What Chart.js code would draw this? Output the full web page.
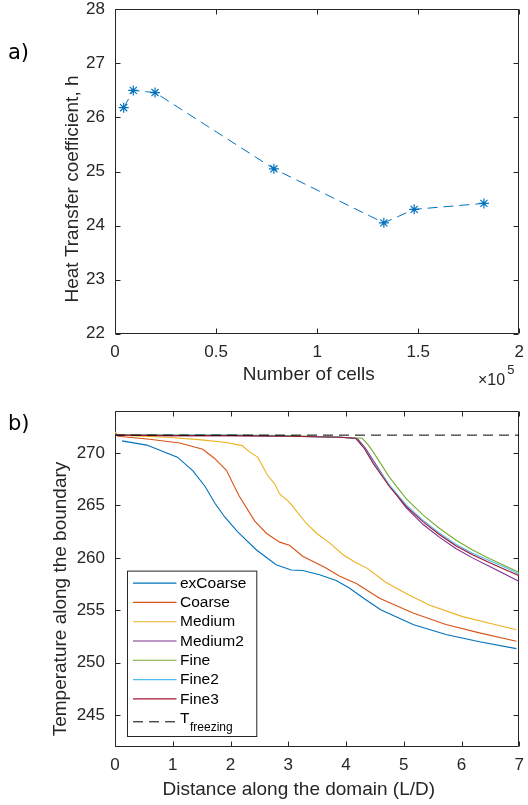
<!DOCTYPE html>
<html><head><meta charset="utf-8">
<script src="https://cdn.jsdelivr.net/npm/chart.js@4.4.1/dist/chart.umd.min.js"></script>
<style>
html,body{margin:0;padding:0;background:#fff;}
#wrap{position:relative;width:528px;height:805px;overflow:hidden;}
canvas{position:absolute;left:0;}
#c1{top:0;}
#c2{top:390px;}
</style></head><body>
<div id="wrap">
<canvas id="c1" width="528" height="400"></canvas>
<canvas id="c2" width="528" height="415"></canvas>
</div>
<script>
// ---------- Panel a) data ----------
const cellCounts   = [4300, 9050, 19800, 78600, 133000, 148000, 182500];
const heatTransfer = [26.18, 26.5, 26.46, 25.05, 24.05, 24.3, 24.41];
const aXTicks      = [0, 50000, 100000, 150000, 200000];
const aXTickLabels = ['0', '0.5', '1', '1.5', '2'];
const aYTicks      = [22, 23, 24, 25, 26, 27, 28];

// ---------- Panel b) data ----------
const seriesNames = ['exCoarse', 'Coarse', 'Medium', 'Medium2', 'Fine', 'Fine2', 'Fine3'];
const exCoarseX = [0.12, 0.55, 1.08, 1.35, 1.56, 1.73, 1.9, 2.12, 2.45, 2.79, 3.05, 3.25, 3.54, 3.83, 4.05, 4.33, 4.6, 5.16, 5.73, 6.31, 6.95];
const exCoarseY = [271.15, 270.75, 269.6, 268.3, 266.8, 265.2, 263.9, 262.5, 260.75, 259.35, 258.85, 258.8, 258.4, 257.85, 257.15, 256.05, 255.05, 253.65, 252.7, 252.0, 251.35];
const coarseX = [0, 0.05, 0.6, 1.12, 1.52, 1.72, 1.93, 2.05, 2.15, 2.42, 2.62, 2.85, 3.02, 3.25, 3.63, 3.89, 4.18, 4.58, 5.16, 5.73, 6.31, 6.95];
const coarseY = [272.0, 271.6, 271.3, 270.95, 270.35, 269.5, 268.35, 267.0, 265.9, 263.5, 262.35, 261.5, 261.2, 260.15, 259.1, 258.25, 257.55, 256.15, 254.75, 253.65, 252.85, 252.05];
const mediumX = [0, 0.05, 0.9, 1.5, 1.93, 2.2, 2.33, 2.47, 2.57, 2.64, 2.77, 2.85, 2.98, 3.05, 3.31, 3.5, 3.72, 3.95, 4.15, 4.37, 4.68, 5.04, 5.44, 6.02, 6.54, 6.95];
const mediumY = [272.0, 271.7, 271.5, 271.25, 271.0, 270.7, 270.1, 269.6, 268.6, 267.9, 267.0, 266.1, 265.5, 265.1, 263.3, 262.3, 261.4, 260.3, 259.6, 259.0, 257.7, 256.6, 255.5, 254.4, 253.7, 253.15];
const medium2X = [0, 1, 2, 3, 3.9, 4.2, 4.33, 4.47, 4.75, 5.04, 5.33, 5.62, 5.9, 6.19, 6.48, 6.77, 7.0];
const medium2Y = [271.7, 271.65, 271.65, 271.6, 271.5, 271.35, 270.5, 269.3, 266.9, 264.8, 263.2, 261.95, 260.9, 260.0, 259.2, 258.4, 257.75];
const fineX = [0, 1, 2, 3, 3.9, 4.28, 4.38, 4.47, 4.75, 5.04, 5.33, 5.62, 5.9, 6.19, 6.48, 6.77, 7.0];
const fineY = [271.7, 271.7, 271.7, 271.65, 271.5, 271.4, 270.8, 270.1, 267.7, 265.65, 264.1, 262.8, 261.7, 260.75, 259.95, 259.2, 258.6];
const fine2X = [0, 1, 2, 3, 3.9, 4.17, 4.32, 4.47, 4.75, 5.04, 5.33, 5.62, 5.9, 6.19, 6.48, 6.77, 7.0];
const fine2Y = [271.7, 271.7, 271.7, 271.6, 271.5, 271.4, 270.45, 269.1, 266.95, 265.05, 263.6, 262.35, 261.3, 260.45, 259.75, 259.05, 258.45];
const fine3X = [0, 1, 2, 3, 3.9, 4.17, 4.32, 4.47, 4.75, 5.04, 5.33, 5.62, 5.9, 6.19, 6.48, 6.77, 7.0];
const fine3Y = [271.7, 271.65, 271.65, 271.6, 271.5, 271.4, 270.4, 269.0, 266.8, 264.9, 263.45, 262.2, 261.15, 260.3, 259.55, 258.85, 258.3];
const tFreezing = 271.7;
const freezingRange = [0, 7];
const bXTicks = [0, 1, 2, 3, 4, 5, 6, 7];
const bYTicks = [245, 250, 255, 260, 265, 270];

// ---------- styles ----------
const FONT = "'Liberation Sans', Arial, Helvetica, sans-serif";
const AXIS = '#262626';
const seriesColors = ['#0072BD', '#D95319', '#EDB120', '#7E2F8E', '#77AC30', '#4DBEEE', '#A2142F'];
const DASH = [10, 6];

const seriesXs = [exCoarseX, coarseX, mediumX, medium2X, fineX, fine2X, fine3X];
const seriesYs = [exCoarseY, coarseY, mediumY, medium2Y, fineY, fine2Y, fine3Y];

// frame, inward ticks, titles, panel labels
const matlabPlugin = {
  id: 'matlab',
  beforeDatasetsDraw(chart, args, o) {
    const {ctx, chartArea: a, scales: {x, y}} = chart;
    ctx.save();
    ctx.strokeStyle = AXIS; ctx.lineWidth = 1;
    const L = 5;
    const l = Math.round(a.left) + 0.5, r = Math.round(a.right) - 0.5;
    const t = Math.round(a.top) + 0.5, b = Math.round(a.bottom) - 0.5;
    ctx.beginPath();
    ctx.moveTo(l, t); ctx.lineTo(r, t); ctx.lineTo(r, b); ctx.lineTo(l, b); ctx.closePath();
    x.ticks.forEach(tk => {
      const px = Math.round(x.getPixelForValue(tk.value)) + 0.5;
      ctx.moveTo(px, b); ctx.lineTo(px, b - L);
      ctx.moveTo(px, t); ctx.lineTo(px, t + L);
    });
    y.ticks.forEach(tk => {
      const py = Math.round(y.getPixelForValue(tk.value)) + 0.5;
      ctx.moveTo(l, py); ctx.lineTo(l + L, py);
      ctx.moveTo(r, py); ctx.lineTo(r - L, py);
    });
    ctx.stroke();
    ctx.restore();
  },
  afterDraw(chart, args, o) {
    const {ctx} = chart;
    ctx.save();
    ctx.fillStyle = AXIS;
    ctx.font = `19px ${FONT}`;
    ctx.textBaseline = 'alphabetic';
    ctx.textAlign = 'center';
    ctx.fillText(o.xTitle, o.xTitlePos[0], o.xTitlePos[1]);
    ctx.save();
    ctx.translate(o.yTitlePos[0], o.yTitlePos[1]);
    ctx.rotate(-Math.PI / 2);
    ctx.fillText(o.yTitle, 0, 0);
    ctx.restore();
    ctx.fillStyle = '#000';
    ctx.textAlign = 'left';
    ctx.font = `21px 'DejaVu Sans', sans-serif`;
    ctx.fillText(o.panel, o.panelPos[0], o.panelPos[1]);
    if (o.exponent) {
      ctx.fillStyle = AXIS;
      ctx.font = `16px ${FONT}`;
      ctx.fillText('\u00d710', o.exponentPos[0], o.exponentPos[1]);
      const w = ctx.measureText('\u00d710').width;
      ctx.font = `13px ${FONT}`;
      ctx.fillText(o.exponent, o.exponentPos[0] + w + 2, o.exponentPos[1] - 11);
    }
    ctx.restore();
  }
};

const boxLegend = {
  id: 'boxLegend',
  afterDatasetsDraw(chart, args, o) {
    if (!o.show) return;
    const {ctx, chartArea: a} = chart;
    const left = Math.round(a.left + o.offsetX) + 0.5;
    const bottom = Math.round(a.bottom - o.offsetY) + 0.5;
    const top = bottom - o.height;
    ctx.save();
    ctx.fillStyle = '#fff';
    ctx.fillRect(left, top, o.width, o.height);
    ctx.strokeStyle = AXIS; ctx.lineWidth = 1;
    ctx.strokeRect(left, top, o.width, o.height);
    chart.data.datasets.forEach((ds, i) => {
      const sub = ds.subLabel;
      const yy = top + o.firstRow + i * o.rowGap + (sub ? o.subExtra : 0);
      ctx.strokeStyle = ds.borderColor;
      ctx.lineWidth = ds.borderWidth;
      ctx.setLineDash(ds.borderDash || []);
      ctx.beginPath(); ctx.moveTo(left + 5.5, yy); ctx.lineTo(left + 49, yy); ctx.stroke();
      ctx.setLineDash([]);
      ctx.fillStyle = '#000';
      ctx.textAlign = 'left';
      ctx.textBaseline = 'middle';
      ctx.font = `15.5px ${FONT}`;
      if (sub) {
        ctx.fillText(ds.label, left + 52.5, yy - 3.5);
        const w = ctx.measureText(ds.label).width;
        ctx.font = `12px ${FONT}`;
        ctx.textBaseline = 'alphabetic';
        ctx.fillText(sub, left + 52.5 + w + 0.5, yy + 9.5);
      } else {
        ctx.fillText(ds.label, left + 52.5, yy + 0.5);
      }
    });
    ctx.restore();
  }
};

function scaleX(min, max, ticks, labels, height) {
  return {
    type: 'linear', min, max,
    afterBuildTicks: s => { s.ticks = ticks.map(v => ({value: v})); },
    afterFit: s => { s.height = height; s.paddingLeft = 0; s.paddingRight = 0; },
    grid: {display: false, drawTicks: false},
    border: {display: false},
    ticks: {
      padding: 8, color: AXIS, maxRotation: 0, autoSkip: false,
      font: {family: FONT, size: 17},
      callback: (v) => labels ? labels[ticks.indexOf(v)] : String(v)
    },
    title: {display: false}
  };
}
function scaleY(min, max, ticks) {
  return {
    type: 'linear', min, max,
    afterBuildTicks: s => { s.ticks = ticks.map(v => ({value: v})); },
    afterFit: s => { s.width = 115; s.paddingTop = 0; s.paddingBottom = 0; },
    grid: {display: false, drawTicks: false},
    border: {display: false},
    ticks: {padding: 10, color: AXIS, autoSkip: false, font: {family: FONT, size: 17}},
    title: {display: false}
  };
}

// ---------- Chart a ----------
new Chart(document.getElementById('c1'), {
  type: 'line',
  data: {
    datasets: [{
      label: 'h',
      data: cellCounts.map((c, i) => ({x: c, y: heatTransfer[i]})),
      borderColor: seriesColors[0], borderWidth: 1, borderDash: DASH,
      pointStyle: 'star', pointRadius: 5, pointBorderWidth: 1.2,
      pointBorderColor: seriesColors[0], pointBackgroundColor: seriesColors[0],
      tension: 0, fill: false
    }]
  },
  options: {
    responsive: false, animation: false, events: [],
    layout: {padding: {top: 9.3, right: 8.7, bottom: 0, left: 0}},
    scales: {x: scaleX(0, 200000, aXTicks, aXTickLabels, 66.3), y: scaleY(22, 28, aYTicks)},
    plugins: {
      legend: {display: false}, tooltip: {enabled: false},
      matlab: {
        xTitle: 'Number of cells', xTitlePos: [308.7, 380],
        yTitle: 'Heat Transfer coefficient, h', yTitlePos: [78, 189],
        panel: 'a)', panelPos: [8, 59],
        exponent: '5', exponentPos: [478, 385]
      },
      boxLegend: {show: false}
    }
  },
  plugins: [matlabPlugin, boxLegend]
});

// ---------- Chart b ----------
const bDatasets = seriesNames.map((name, i) => ({
  label: name,
  data: seriesXs[i].map((x, j) => ({x, y: seriesYs[i][j]})),
  borderColor: seriesColors[i], borderWidth: 1.1,
  pointRadius: 0, tension: 0, fill: false, order: -i
}));
bDatasets.push({
  label: 'T', subLabel: 'freezing',
  data: freezingRange.map(x => ({x, y: tFreezing})),
  borderColor: '#000', borderWidth: 1, borderDash: DASH,
  pointRadius: 0, tension: 0, fill: false, order: -10
});

new Chart(document.getElementById('c2'), {
  type: 'line',
  data: {datasets: bDatasets},
  options: {
    responsive: false, animation: false, events: [],
    layout: {padding: {top: 21, right: 8.7, bottom: 0, left: 0}},
    scales: {x: scaleX(0, 7, bXTicks, null, 58.3), y: scaleY(242, 274, bYTicks)},
    plugins: {
      legend: {display: false}, tooltip: {enabled: false},
      matlab: {
        xTitle: 'Distance along the domain (L/D)', xTitlePos: [298.8, 405],
        yTitle: 'Temperature along the boundary', yTitlePos: [66, 209],
        panel: 'b)', panelPos: [8, 39.5]
      },
      boxLegend: {show: true, offsetX: 11.7, offsetY: 11, width: 129.3, height: 165.4,
                  firstRow: 12, rowGap: 19.3, subExtra: 3.6}
    }
  },
  plugins: [matlabPlugin, boxLegend]
});
</script>
</body></html>
